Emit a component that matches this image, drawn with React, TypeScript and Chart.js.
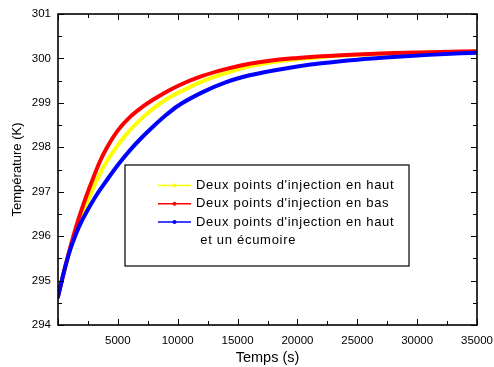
import React, { useEffect, useRef } from "react";
import { Chart, registerables } from "chart.js";

Chart.register(...registerables);

// Time (s)
const times = [0, 500, 1000, 1500, 2000, 2500, 3000, 3500, 4000, 5000, 6000, 7000, 8000, 9000, 10000, 12000, 14000, 16000, 18000, 20000, 22000, 25000, 28000, 31000, 35000];
// Deux points d'injection en haut (yellow)
const tempHaut = [294.65, 295.19, 295.68, 296.1, 296.45, 296.79, 297.12, 297.4, 297.65, 298.05, 298.38, 298.65, 298.88, 299.07, 299.22, 299.48, 299.67, 299.82, 299.92, 299.98, 300.03, 300.08, 300.11, 300.13, 300.15];
// Deux points d'injection en bas (red)
const tempBas = [294.65, 295.2, 295.72, 296.2, 296.62, 297.0, 297.35, 297.68, 297.95, 298.38, 298.68, 298.9, 299.08, 299.24, 299.38, 299.6, 299.76, 299.88, 299.96, 300.01, 300.05, 300.09, 300.12, 300.14, 300.16];
// Deux points d'injection en haut et un écumoire (blue)
const tempEcumoire = [294.63, 295.2, 295.68, 296.05, 296.35, 296.6, 296.83, 297.04, 297.23, 297.6, 297.93, 298.22, 298.48, 298.72, 298.93, 299.23, 299.46, 299.62, 299.73, 299.82, 299.89, 299.97, 300.03, 300.08, 300.13];

const xTicks = [5000, 10000, 15000, 20000, 25000, 30000, 35000];
const yTicks = [294, 295, 296, 297, 298, 299, 300, 301];

const seriesLabels = [
  ["Deux points d'injection en haut"],
  ["Deux points d'injection en bas"],
  ["Deux points d'injection en haut", " et un écumoire"],
];
const seriesColors = ["#ffff00", "#ff0000", "#0000ff"];

const FONT = "'Liberation Sans', Arial, Helvetica, sans-serif";

const framePlugin = {
  id: "frameTicks",
  afterDatasetsDraw(chart: any) {
    const { ctx, chartArea, scales } = chart;
    const { left, right, top, bottom } = chartArea;
    const x = scales.x;
    const y = scales.y;
    ctx.save();
    ctx.strokeStyle = "#000";
    ctx.lineWidth = 1;
    const seg = (x1: number, y1: number, x2: number, y2: number) => {
      ctx.beginPath();
      ctx.moveTo(x1, y1);
      ctx.lineTo(x2, y2);
      ctx.stroke();
    };
    for (let v = 0; v <= 35000; v += 2500) {
      const px = Math.round(x.getPixelForValue(v)) + 0.5;
      const len = v % 5000 === 0 ? 6 : 4;
      seg(px, bottom, px, bottom - len);
      seg(px, top, px, top + len);
    }
    for (let v = 294; v <= 301.001; v += 0.5) {
      const py = Math.round(y.getPixelForValue(v)) + 0.5;
      const len = Math.abs(v - Math.round(v)) < 1e-6 ? 6 : 4;
      seg(left, py, left + len, py);
      seg(right, py, right - len, py);
    }
    ctx.lineWidth = 1.6;
    ctx.strokeRect(left, top, right - left, bottom - top);
    ctx.restore();
  },
};

const legendPlugin = {
  id: "boxLegend",
  afterDraw(chart: any) {
    const { ctx } = chart;
    const bx = 125, by = 165, bw = 284, bh = 101;
    ctx.save();
    ctx.fillStyle = "#fff";
    ctx.fillRect(bx, by, bw, bh);
    ctx.strokeStyle = "#000";
    ctx.lineWidth = 1.2;
    ctx.strokeRect(bx, by, bw, bh);
    ctx.font = `13px ${FONT}`;
    try { (ctx as any).letterSpacing = "0.7px"; } catch (e) {}
    ctx.textBaseline = "middle";
    ctx.textAlign = "left";
    let rowY = 185.5;
    chart.data.datasets.forEach((ds: any, i: number) => {
      ctx.strokeStyle = ds.borderColor;
      ctx.lineWidth = 1.5;
      ctx.beginPath();
      ctx.moveTo(158, rowY);
      ctx.lineTo(191, rowY);
      ctx.stroke();
      ctx.fillStyle = ds.borderColor;
      ctx.beginPath();
      ctx.arc(174.5, rowY, 2, 0, Math.PI * 2);
      ctx.fill();
      ctx.fillStyle = "#000";
      const lines: string[] = seriesLabels[i];
      lines.forEach((t, k) => {
        ctx.fillText(t, 196, rowY + k * 18.3);
      });
      rowY += 18.3 * lines.length;
    });
    ctx.restore();
  },
};

export default function App() {
  const ref = useRef<HTMLCanvasElement | null>(null);
  useEffect(() => {
    if (!ref.current) return;
    const series = [tempHaut, tempBas, tempEcumoire];
    const chart = new Chart(ref.current, {
      type: "line",
      data: {
        datasets: series.map((vals, i) => ({
          label: seriesLabels[i].join(""),
          data: times.map((t, k) => ({ x: t, y: vals[k] })),
          borderColor: seriesColors[i],
          backgroundColor: seriesColors[i],
          borderWidth: 4,
          pointRadius: 0,
          cubicInterpolationMode: "monotone" as const,
          borderCapStyle: "round" as const,
          borderJoinStyle: "round" as const,
          order: 3 - i,
        })),
      },
      options: {
        responsive: false,
        animation: false,
        events: [],
        layout: { padding: { top: 14, right: 17, left: 0, bottom: 0 } },
        plugins: { legend: { display: false }, tooltip: { enabled: false } },
        scales: {
          x: {
            type: "linear",
            min: 0,
            max: 35000,
            afterBuildTicks: (s: any) => {
              s.ticks = xTicks.map((v) => ({ value: v }));
            },
            afterFit: (s: any) => {
              s.height = 42;
              s.paddingRight = 0;
              s.paddingLeft = 0;
            },
            grid: { display: false, drawTicks: false },
            border: { display: false },
            ticks: {
              autoSkip: false,
              maxRotation: 0,
              padding: 9,
              color: "#000",
              font: { family: FONT, size: 11.5 },
              callback: (v: any) => String(v),
            },
            title: {
              display: true,
              text: "Temps (s)",
              color: "#000",
              font: { family: FONT, size: 14.5 },
              padding: { top: 1, bottom: 0 },
            },
          },
          y: {
            type: "linear",
            min: 294,
            max: 301,
            afterBuildTicks: (s: any) => {
              s.ticks = yTicks.map((v) => ({ value: v }));
            },
            afterFit: (s: any) => {
              s.width = 58;
              s.paddingTop = 0;
              s.paddingBottom = 0;
            },
            grid: { display: false, drawTicks: false },
            border: { display: false },
            ticks: {
              padding: 7,
              color: "#000",
              font: { family: FONT, size: 11.5 },
              callback: (v: any) => String(v),
            },
            title: {
              display: true,
              text: "Température (K)",
              color: "#000",
              font: { family: FONT, size: 13 },
              padding: { top: 10, bottom: 0 },
            },
          },
        },
      },
      plugins: [framePlugin, legendPlugin],
    });
    return () => chart.destroy();
  }, []);
  return (
    <div style={{ position: "absolute", left: 0, top: 0, width: 494, height: 367, background: "#fff" }}>
      <canvas ref={ref} width={494} height={367} style={{ display: "block" }} />
    </div>
  );
}
